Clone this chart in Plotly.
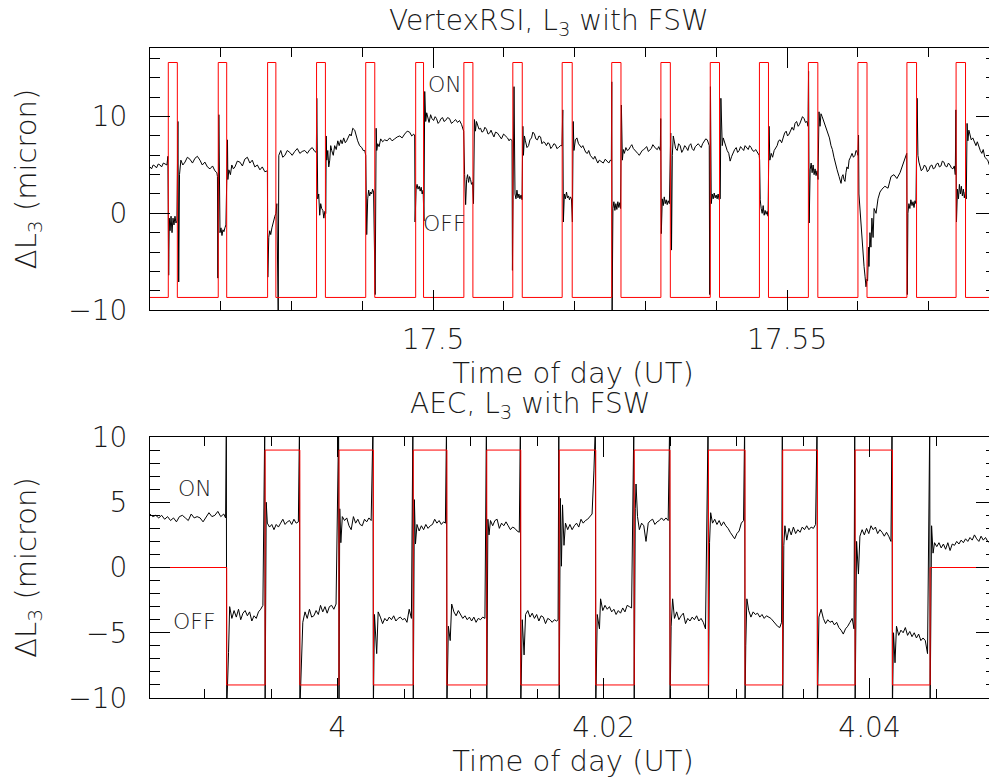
import plotly.graph_objects as go

# ---------------- DATA ----------------
# Top panel: times in seconds after 17.46 h UT
TOP_T0_H = 17.46
top_red_rise_s = [9.3, 34.7, 59.8, 84.7, 109.7, 135.1, 159.6, 184.5, 209.6, 234.8,
                  259.8, 284.9, 309.9, 334.8, 360.0, 384.9, 409.9]
top_red_fall_s = [13.9, 39.0, 64.0, 89.2, 114.3, 139.1, 164.2, 189.3, 214.7, 239.5,
                  264.6, 289.6, 314.5, 339.6, 364.6, 389.8, 414.7]
TOP_RED_LOW = -8.7
TOP_RED_HIGH = 15.6

top_black = [
    (0.0, 4.8), (0.8, 4.6), (1.6, 5.0), (2.5, 4.9), (3.3, 4.7), (4.2, 5.1), (5.1, 5.0), (5.9, 4.8),
    (6.8, 5.2), (7.6, 5.1), (8.6, 5.0),
    (9.1, 5.9), (9.5, -6.4), (9.8, -0.5), (10.2, -1.8), (10.7, -0.3), (11.2, -2.0), (11.7, -0.5),
    (12.2, -1.2), (12.7, -0.3), (13.2, -1.0), (13.7, -0.8),
    (14.2, 9.5), (14.6, -7.1), (15.0, 4.0), (15.7, 5.5), (16.7, 5.0), (17.8, 5.3), (19.0, 5.8),
    (20.3, 5.6), (21.6, 5.2), (22.9, 5.7), (24.1, 5.9), (25.4, 5.5), (26.6, 5.0), (27.9, 5.3),
    (29.2, 4.8), (30.5, 4.6), (31.8, 4.9), (33.0, 4.4), (34.0, 4.2),
    (34.3, 3.8), (34.5, -6.7), (35.0, 10.2), (35.3, -1.0), (35.6, -2.0), (36.1, -1.5), (36.6, -2.3),
    (37.1, -1.7), (37.6, -1.9), (38.1, -1.5), (38.6, -1.2),
    (39.4, 7.6), (39.6, 3.5), (40.1, 4.5), (40.9, 4.0), (41.6, 5.0), (42.4, 4.6), (43.2, 4.8),
    (44.4, 5.4), (45.7, 5.3), (47.0, 4.9), (48.2, 5.6), (49.5, 5.8), (50.8, 5.2), (52.0, 5.5),
    (53.3, 4.8), (54.6, 5.0), (55.9, 4.5), (57.1, 4.8), (58.4, 4.3),
    (59.7, 4.4), (59.9, -6.6), (60.4, -2.5), (60.9, -1.8), (61.4, -2.2), (62.0, -1.5), (62.5, -1.0),
    (63.0, -0.8), (63.5, -0.3), (64.0, 0.0),
    (64.5, 1.0), (65.2, -10.5), (65.5, 6.0), (66.5, 6.5), (67.5, 5.8), (68.6, 6.0), (69.8, 6.5),
    (71.1, 6.3), (72.3, 6.0), (73.6, 6.4), (74.9, 6.7), (76.2, 6.2), (77.4, 6.4), (78.7, 6.5),
    (80.0, 6.2), (81.3, 6.6), (82.5, 6.8), (83.8, 6.4),
    (84.6, 6.3), (84.8, 11.9), (85.3, 1.5), (85.8, 2.0), (86.3, -0.2), (86.8, 1.0), (87.3, 0.5),
    (87.9, 0.3), (88.4, -0.5), (88.9, 0.2),
    (89.4, 0.0), (89.6, 8.0), (89.9, 5.5), (90.4, 6.5), (90.9, 4.8), (91.4, 5.5), (91.9, 7.0),
    (92.4, 6.5), (93.2, 6.0), (93.9, 7.0), (94.7, 6.6), (95.5, 7.5), (96.2, 7.0), (97.0, 7.6),
    (97.7, 7.2), (98.5, 7.8), (99.3, 7.3), (100.0, 7.5), (100.8, 7.9), (101.6, 8.2), (102.3, 8.0),
    (103.1, 8.8), (104.1, 8.6), (104.8, 8.0), (105.6, 7.5), (106.6, 7.0), (107.7, 6.8), (108.4, 6.5),
    (109.2, 6.5),
    (109.7, 6.0), (110.2, -2.2), (110.7, 1.5), (111.2, 2.4), (111.7, 1.8), (112.2, 2.2), (112.7, 2.0),
    (113.2, 2.5), (113.7, 2.2),
    (114.5, -8.4), (115.0, 8.8), (115.3, 6.5), (115.8, 7.2), (116.5, 6.9), (117.3, 7.7), (118.3, 7.4),
    (119.3, 7.6), (120.6, 7.5), (121.9, 7.8), (123.1, 7.5), (124.4, 7.7), (125.7, 7.9), (127.0, 8.0),
    (128.2, 7.8), (129.5, 8.2), (130.8, 8.5), (132.0, 8.4), (133.1, 8.0), (134.1, 8.2),
    (134.6, 8.0), (134.8, -0.9), (135.3, 2.5), (135.8, 3.0), (136.3, 2.5), (136.9, 2.8), (137.4, 2.3),
    (137.9, 2.7), (138.4, 2.0), (138.9, 2.4),
    (139.3, -0.8), (139.7, 12.6), (140.2, 9.5), (140.7, 10.4), (141.2, 9.8), (141.9, 9.4),
    (142.7, 10.2), (143.4, 9.8), (144.2, 9.6), (145.0, 10.0), (145.7, 9.8), (146.5, 9.3), (147.3, 9.5),
    (148.0, 9.8), (148.8, 9.9), (149.5, 9.5), (150.3, 9.6), (151.3, 9.9), (152.3, 9.8), (153.3, 9.3),
    (154.4, 9.5), (155.4, 9.7), (156.4, 9.4), (157.4, 9.6), (158.4, 9.2),
    (159.5, 8.5), (160.0, 4.0), (160.5, 0.9), (161.0, 3.5), (161.5, 4.0), (162.0, 3.2), (162.5, 3.8),
    (163.0, 3.5), (163.5, 3.0), (164.0, 3.2),
    (164.5, 1.0), (165.0, 9.7), (165.5, 8.5), (166.0, 9.5), (166.6, 9.2), (167.3, 8.7), (168.1, 8.8),
    (168.8, 8.4), (169.6, 8.5), (170.3, 8.9), (171.1, 8.7), (171.9, 8.2), (172.7, 8.3), (173.4, 8.6),
    (174.2, 8.2), (174.9, 7.9), (175.7, 8.4), (176.7, 8.3), (177.7, 8.0), (178.7, 7.7), (179.8, 8.2),
    (180.8, 8.0), (181.8, 7.8), (182.6, 7.5), (183.3, 7.7),
    (184.1, 7.5), (184.3, -5.9), (185.1, 13.1), (185.6, 2.0), (186.1, 1.5), (186.6, 2.4), (187.1, 1.6),
    (187.6, 2.0), (188.1, 1.5), (188.7, 1.9), (189.2, 1.4),
    (189.6, 9.0), (189.9, 6.0), (190.4, 8.0), (190.9, 7.5), (191.7, 6.8), (192.5, 7.0), (193.2, 7.6),
    (194.0, 7.8), (194.7, 8.4), (195.5, 8.2), (196.2, 7.7), (197.0, 7.6), (197.8, 8.0), (198.6, 7.9),
    (199.3, 7.2), (200.1, 7.4), (200.8, 7.3), (201.6, 7.0), (202.3, 7.3), (203.1, 7.2), (203.8, 6.7),
    (204.6, 6.9), (205.4, 7.2), (206.2, 7.1), (206.9, 6.7), (207.7, 6.8), (208.7, 7.0),
    (209.5, 7.0), (209.9, 10.7), (210.2, -0.9), (210.7, 2.0), (211.2, 1.5), (211.8, 2.2), (212.3, 1.6),
    (212.8, 1.8), (213.3, 1.4), (213.8, 1.7), (214.3, 1.5),
    (214.8, -0.9), (215.2, 9.5), (215.6, 6.5), (216.3, 7.6), (217.1, 7.8), (217.9, 7.2), (218.6, 7.0),
    (219.4, 6.8), (220.1, 7.0), (220.9, 6.5), (221.6, 6.3), (222.4, 6.2), (223.1, 6.5), (223.9, 6.0),
    (224.7, 5.8), (225.5, 5.6), (226.2, 5.9), (227.0, 5.4), (227.7, 5.2), (228.5, 5.5), (229.5, 5.3),
    (230.5, 5.2), (231.5, 5.6), (232.6, 5.4), (233.3, 5.2), (234.1, 5.5),
    (234.6, 5.4), (234.8, 13.6), (235.0, -10.2), (235.4, 0.5), (235.9, 1.2), (236.4, 0.3), (236.9, 1.0),
    (237.4, 0.4), (237.9, 1.2), (238.4, 0.6), (238.9, 1.1), (239.3, 0.5),
    (239.7, 11.2), (240.2, 5.5), (240.7, 6.6), (241.2, 6.2), (242.0, 6.8), (242.7, 6.5), (243.5, 6.6),
    (244.3, 6.9), (245.0, 7.1), (245.8, 6.7), (246.5, 6.5), (247.3, 6.3), (248.0, 6.2), (248.8, 6.0),
    (249.5, 6.3), (250.3, 6.5), (251.1, 6.6), (251.9, 6.8), (252.6, 6.9), (253.4, 6.4), (254.2, 6.6),
    (254.9, 6.7), (255.7, 7.1), (256.4, 6.9), (257.2, 6.7), (258.0, 6.6), (258.7, 6.9), (259.5, 6.5),
    (259.7, 9.8), (260.0, -2.1), (260.5, 1.5), (261.0, 0.8), (261.5, 1.7), (262.0, 1.0), (262.5, 1.4),
    (263.0, 0.9), (263.5, 1.3), (264.1, 1.0),
    (264.8, 8.3), (265.2, -3.8), (265.6, 6.0), (266.1, 8.0), (266.6, 7.5), (267.3, 6.7), (268.1, 6.5),
    (268.8, 7.2), (269.6, 7.0), (270.4, 6.3), (271.2, 6.6), (271.9, 7.0), (272.7, 6.8), (273.5, 6.5),
    (274.2, 7.0), (275.0, 7.2), (275.7, 6.7), (276.5, 6.5), (277.3, 6.9), (278.0, 7.1), (278.8, 7.2),
    (279.5, 7.0), (280.3, 6.8), (281.0, 7.2), (281.8, 7.4), (282.6, 7.7), (283.4, 7.6), (284.4, 7.0),
    (284.6, -8.4), (285.0, 13.1), (285.4, 1.0), (285.9, 2.0), (286.4, 1.5), (286.9, 2.1), (287.4, 1.6),
    (287.9, 1.9), (288.4, 1.5), (288.9, 2.0), (289.4, 1.4),
    (290.0, 1.5), (290.3, 11.9), (291.0, 7.0), (291.5, 7.8), (292.0, 7.4), (292.8, 6.9), (293.5, 6.5),
    (294.3, 6.2), (295.0, 5.4), (295.8, 5.9), (296.6, 6.3), (297.3, 6.6), (298.1, 6.8), (298.8, 6.3),
    (299.6, 6.5), (300.3, 6.9), (301.1, 6.7), (301.9, 6.5), (302.6, 7.0), (303.4, 6.8), (304.2, 6.6),
    (304.9, 7.0), (305.7, 6.8), (306.4, 6.5), (307.2, 6.4), (308.0, 6.6), (308.7, 6.3), (309.8, 6.0),
    (310.0, 5.5), (310.3, 1.4), (310.8, 0.5), (311.3, 0.0), (311.8, 0.8), (312.3, -0.2), (312.8, 0.3),
    (313.3, -0.1), (313.8, 0.2), (314.3, -0.3),
    (314.8, 9.0), (315.2, 5.5), (315.9, 6.2), (316.6, 5.8), (317.4, 6.5), (318.1, 6.7), (318.9, 7.0),
    (319.6, 7.5), (320.4, 7.6), (321.2, 7.3), (322.0, 8.0), (322.7, 8.3), (323.5, 8.5), (324.2, 8.0),
    (325.0, 8.2), (325.8, 8.7), (326.5, 8.9), (327.3, 8.6), (328.0, 9.3), (328.8, 9.5), (329.6, 9.0),
    (330.3, 9.2), (331.1, 9.6), (331.8, 10.0), (332.6, 9.8), (333.3, 9.4), (334.1, 9.5),
    (334.6, 9.0), (334.9, 14.7), (335.2, -1.0), (335.7, 4.5), (336.2, 5.2), (336.7, 4.2), (337.2, 5.0),
    (337.7, 4.0), (338.2, 4.6), (338.7, 3.9), (339.2, 4.4),
    (339.7, 3.5), (340.2, 10.5), (340.7, 9.0), (341.2, 10.3), (341.8, 10.0), (342.5, 9.6), (343.3, 9.2),
    (344.0, 8.8), (344.8, 8.2), (345.5, 7.8), (346.3, 7.0), (347.0, 6.6), (347.8, 5.8), (348.6, 5.0),
    (349.4, 4.5), (350.4, 3.8), (351.4, 3.1), (351.9, 3.8), (352.4, 4.0), (352.9, 3.5), (353.4, 3.3),
    (353.9, 4.2), (354.4, 4.8), (355.0, 4.6), (355.5, 5.5), (356.2, 5.8), (357.0, 6.2), (357.7, 5.8),
    (358.5, 6.0), (359.0, 6.5), (359.5, 6.4),
    (360.0, 6.0), (360.3, 8.1), (360.5, 2.0), (361.1, 0.0), (361.6, -1.5), (362.1, -3.0), (362.6, -4.0),
    (363.1, -5.5), (363.6, -6.5), (364.1, -7.6), (364.6, -6.8),
    (364.9, -7.0), (365.4, -3.5), (365.6, -5.5), (366.1, -2.0), (366.6, -3.5), (367.1, -0.5),
    (367.7, -2.5), (368.2, 0.5), (369.2, 0.0), (370.2, 1.5), (371.2, 2.2), (372.2, 2.5), (373.7, 2.8),
    (375.3, 2.6), (376.8, 3.8), (378.3, 4.0), (379.8, 3.6), (381.4, 4.2), (382.9, 5.0), (384.4, 6.0),
    (384.8, 6.2), (385.1, -8.4), (385.4, 0.0), (385.9, 1.0), (386.4, 0.5), (386.9, 1.4), (387.5, 0.8),
    (388.0, 1.2), (388.5, 0.6), (389.0, 1.3), (389.5, 1.0),
    (390.1, 11.9), (390.5, 6.0), (391.0, 5.3), (391.5, 5.0), (392.2, 4.4), (393.0, 4.6), (393.8, 5.0),
    (394.6, 4.8), (395.3, 4.3), (396.1, 4.5), (396.8, 4.9), (397.6, 5.0), (398.3, 4.6), (399.1, 4.7),
    (399.9, 5.1), (400.7, 5.2), (401.4, 4.8), (402.2, 4.9), (402.9, 5.4), (403.7, 5.3), (404.4, 4.9),
    (405.2, 4.8), (406.0, 5.2), (406.8, 5.0), (407.5, 4.7), (408.3, 4.6), (409.0, 4.9), (409.5, 4.0),
    (409.8, 10.7), (410.1, -0.9), (410.6, 2.5), (411.1, 1.5), (411.6, 3.0), (412.1, 2.0), (412.6, 2.8),
    (413.1, 1.8), (413.6, 2.5), (414.1, 1.6), (414.6, 2.2),
    (415.1, 1.5), (415.5, 9.3), (415.9, 7.5), (416.4, 8.6), (416.9, 8.2), (417.6, 7.6), (418.4, 7.8),
    (419.2, 7.3), (420.0, 7.0), (420.7, 7.4), (421.5, 6.8), (422.2, 6.5), (423.0, 6.2), (423.7, 6.6),
    (424.5, 5.8), (425.2, 5.6), (426.0, 5.5), (426.8, 5.0), (427.6, 5.2), (428.3, 5.6), (429.1, 5.8),
    (429.6, 6.3), (430.1, 6.5),
]

# Bottom panel: times in seconds relative to 4.0 h UT
BOT_T0_H = 4.0
BOT_RED_START_LEVEL = 0
bot_red_switch_s = [-30.0, -19.6, -10.2, 0.4, 9.7, 20.5, 29.6, 40.4, 49.6, 60.0,
                    69.9, 80.3, 90.0, 100.4, 110.3, 120.5, 129.9, 140.1, 150.2, 160.4]
bot_red_level = [-9, 9, -9, 9, -9, 9, -9, 9, -9, 9,
                 -9, 9, -9, 9, -9, 9, -9, 9, -9, 0]

bot_black = [
    (-50.8, 4.1), (-50.0, 3.9), (-49.2, 4.0), (-48.4, 3.8), (-47.6, 4.0), (-46.8, 3.7), (-46.0, 3.9),
    (-45.2, 3.6), (-44.4, 3.8), (-43.6, 3.5), (-42.8, 3.9), (-42.0, 4.0), (-41.2, 3.8), (-40.4, 3.6),
    (-39.6, 4.1), (-38.8, 3.8), (-38.0, 3.9), (-37.2, 3.8), (-36.4, 3.5), (-35.6, 3.9), (-34.8, 4.2),
    (-34.0, 3.9), (-33.2, 4.0), (-32.4, 4.3), (-31.6, 3.9), (-30.8, 4.1), (-30.3, 3.8),
    (-30.1, 11.0), (-30.0, -11.0),
    (-29.5, -6.5), (-29.2, -3.0), (-28.6, -3.9), (-28.0, -3.3), (-27.4, -3.8), (-26.8, -3.2),
    (-26.2, -4.0), (-25.6, -3.5), (-25.0, -3.3), (-24.4, -3.7), (-23.8, -3.4), (-23.2, -4.1),
    (-22.6, -3.7), (-22.0, -3.9), (-21.4, -3.4), (-20.8, -3.2), (-20.2, -2.9),
    (-19.7, 11.0), (-19.6, -11.0),
    (-19.3, 5.0), (-19.0, 3.4), (-18.4, 3.1), (-17.8, 3.3), (-17.2, 2.9), (-16.6, 3.3), (-16.0, 3.1),
    (-15.4, 3.4), (-14.8, 3.7), (-14.2, 3.3), (-13.6, 3.5), (-13.0, 3.6), (-12.4, 3.3), (-11.8, 3.7),
    (-11.2, 3.4), (-10.6, 3.5),
    (-10.3, 11.0), (-10.2, -11.0),
    (-9.8, -7.5), (-9.4, -4.2), (-8.8, -3.4), (-8.2, -3.9), (-7.6, -3.2), (-7.0, -3.8), (-6.4, -3.7),
    (-5.8, -3.3), (-5.2, -3.6), (-4.6, -2.9), (-4.0, -3.4), (-3.4, -3.0), (-2.8, -3.5), (-2.2, -3.0),
    (-1.6, -2.9), (-1.0, -3.2), (-0.4, -2.8),
    (0.3, 11.0), (0.4, -11.0),
    (0.6, 4.5), (0.9, 1.9), (1.3, 3.9), (1.9, 3.6), (2.5, 3.8), (3.1, 3.2), (3.7, 2.9), (4.3, 3.9),
    (4.9, 3.4), (5.5, 3.7), (6.1, 3.3), (6.7, 3.2), (7.3, 3.7), (7.9, 3.5), (8.5, 3.8), (9.1, 3.6),
    (9.6, 11.0), (9.7, -11.0),
    (10.0, -3.6), (10.6, -6.6), (11.0, -3.4), (11.6, -3.8), (12.2, -4.3), (12.8, -3.9), (13.4, -4.1),
    (14.0, -3.8), (14.6, -4.0), (15.2, -3.7), (15.8, -4.1), (16.4, -3.9), (17.0, -3.8), (17.6, -4.0),
    (18.2, -3.9), (18.8, -4.2), (19.4, -3.2), (20.0, -3.9),
    (20.4, 11.0), (20.5, -11.0),
    (20.8, 5.2), (21.1, 1.8), (21.5, 3.3), (22.1, 2.8), (22.7, 3.2), (23.3, 2.9), (23.9, 3.3),
    (24.5, 3.0), (25.1, 3.2), (25.7, 3.3), (26.3, 3.7), (26.9, 3.4), (27.5, 3.6), (28.1, 3.3),
    (28.7, 3.5), (29.2, 3.4),
    (29.5, 11.0), (29.6, -11.0),
    (30.0, -4.5), (30.5, -5.6), (30.9, -2.8), (31.5, -3.4), (32.1, -3.7), (32.7, -3.3), (33.3, -3.6),
    (33.9, -3.9), (34.5, -3.7), (35.1, -4.0), (35.7, -3.8), (36.3, -4.1), (36.9, -3.8), (37.5, -4.2),
    (38.1, -3.9), (38.7, -4.0), (39.3, -3.8), (39.9, -3.9),
    (40.3, 11.0), (40.4, -11.0),
    (40.7, 3.7), (41.0, 2.5), (41.4, 3.6), (42.0, 3.2), (42.6, 3.6), (43.2, 3.7), (43.8, 3.0),
    (44.4, 3.4), (45.0, 3.2), (45.6, 3.5), (46.2, 3.2), (46.8, 2.9), (47.4, 3.1), (48.0, 3.0),
    (48.6, 2.8), (49.2, 2.7),
    (49.5, 11.0), (49.6, -11.0),
    (50.0, -4.0), (50.5, -6.7), (50.9, -3.6), (51.5, -3.3), (52.1, -3.8), (52.7, -3.5), (53.3, -3.9),
    (53.9, -3.6), (54.5, -4.1), (55.1, -3.7), (55.7, -3.8), (56.3, -4.3), (56.9, -3.9), (57.5, -4.0),
    (58.1, -4.2), (58.7, -4.0), (59.3, -4.1), (59.7, -4.0),
    (59.9, 11.0), (60.0, -11.0),
    (60.3, 5.3), (60.6, 0.1), (60.9, 4.8), (61.3, 1.7), (61.7, 3.4), (62.3, 2.9), (62.9, 3.3),
    (63.5, 2.9), (64.1, 3.2), (64.7, 3.4), (65.3, 3.1), (65.9, 3.7), (66.5, 3.4), (67.1, 3.6),
    (67.7, 3.7), (68.3, 3.9), (68.9, 4.1), (69.4, 7.4),
    (69.8, 11.0), (69.9, -11.0),
    (70.3, -3.6), (70.9, -4.7), (71.2, -2.4), (71.8, -3.3), (72.4, -2.9), (73.0, -3.2), (73.6, -3.0),
    (74.2, -3.4), (74.8, -3.2), (75.4, -3.6), (76.0, -3.3), (76.6, -3.5), (77.2, -3.1), (77.8, -3.4),
    (78.4, -2.9), (79.0, -3.0), (79.6, -3.1),
    (80.2, 11.0), (80.3, -11.0),
    (80.6, 4.5), (80.8, 6.4), (81.2, 3.9), (81.7, 2.9), (82.3, 3.4), (82.9, 3.2), (83.5, 2.0),
    (84.1, 3.4), (84.7, 3.6), (85.3, 3.7), (85.9, 3.3), (86.5, 3.5), (87.1, 3.6), (87.7, 3.8),
    (88.3, 3.6), (88.9, 3.8), (89.5, 3.6),
    (89.9, 11.0), (90.0, -11.0),
    (90.3, -4.5), (90.7, -2.4), (91.2, -3.9), (91.8, -3.4), (92.4, -4.0), (93.0, -3.7), (93.6, -3.5),
    (94.2, -4.3), (94.8, -3.9), (95.4, -4.1), (96.0, -3.8), (96.6, -4.0), (97.2, -3.7), (97.8, -4.1),
    (98.4, -3.9), (99.0, -4.2), (99.6, -4.7),
    (100.3, 11.0), (100.4, -11.0),
    (100.7, 1.9), (101.0, 4.2), (101.5, 3.4), (102.1, 3.7), (102.7, 3.3), (103.3, 3.6), (103.9, 3.2),
    (104.5, 3.5), (105.1, 3.2), (105.7, 3.0), (106.3, 2.7), (106.9, 2.4), (107.5, 2.2), (108.1, 2.6),
    (108.7, 2.8), (109.3, 3.4), (109.9, 3.6),
    (110.2, 11.0), (110.3, -11.0),
    (110.5, -6.0), (110.8, -2.4), (111.3, -3.3), (111.9, -3.8), (112.5, -3.4), (113.1, -3.6),
    (113.7, -3.5), (114.3, -3.8), (114.9, -3.6), (115.5, -3.9), (116.1, -3.7), (116.7, -3.8),
    (117.3, -3.9), (117.9, -4.1), (118.5, -4.3), (119.1, -4.5), (119.7, -4.6), (120.2, -4.2),
    (120.4, 11.0), (120.5, -11.0),
    (120.8, 1.7), (121.1, 3.2), (121.6, 2.1), (122.2, 3.0), (122.8, 2.5), (123.4, 3.1), (124.0, 2.6),
    (124.6, 2.9), (125.2, 2.7), (125.8, 3.1), (126.4, 2.9), (127.0, 3.2), (127.6, 2.9), (128.2, 3.1),
    (128.8, 3.0), (129.4, 3.3),
    (129.8, 11.0), (129.9, -11.0),
    (130.3, -3.8), (130.9, -3.2), (131.5, -3.9), (132.1, -4.3), (132.7, -4.0), (133.3, -4.2),
    (133.9, -4.1), (134.5, -4.4), (135.1, -4.2), (135.7, -4.6), (136.3, -4.8), (136.9, -5.1),
    (137.5, -4.7), (138.1, -4.5), (138.7, -4.2), (139.3, -3.9), (139.8, -4.7),
    (140.0, 11.0), (140.1, -11.0),
    (140.5, 2.0), (141.0, -0.5), (141.4, 2.4), (142.0, 2.9), (142.6, 2.5), (143.2, 3.0), (143.8, 2.6),
    (144.4, 3.2), (145.0, 2.9), (145.6, 3.1), (146.2, 2.6), (146.8, 2.9), (147.4, 2.7), (148.0, 2.4),
    (148.6, 2.7), (149.2, 2.4), (149.8, 2.0),
    (150.1, 11.0), (150.2, -11.0),
    (150.5, -5.0), (150.9, -7.3), (151.3, -4.5), (151.9, -5.2), (152.5, -4.8), (153.1, -5.0),
    (153.7, -4.6), (154.3, -5.2), (154.9, -4.9), (155.5, -5.3), (156.1, -5.0), (156.7, -5.4),
    (157.3, -5.1), (157.9, -5.6), (158.5, -5.4), (159.1, -5.6), (159.7, -6.6),
    (160.3, 11.0), (160.4, -11.0),
    (160.8, 3.2), (161.2, 1.1), (161.6, 1.9), (162.2, 1.6), (162.8, 1.9), (163.4, 1.5), (164.0, 1.8),
    (164.6, 1.4), (165.2, 1.9), (165.8, 1.3), (166.4, 1.8), (167.0, 1.7), (167.6, 2.0), (168.2, 1.8),
    (168.8, 2.1), (169.4, 1.9), (170.0, 2.2), (170.6, 2.0), (171.2, 2.3), (171.8, 2.1), (172.4, 2.5),
    (173.0, 2.2), (173.6, 2.0), (174.2, 2.4), (174.8, 2.1), (175.4, 2.3), (176.0, 2.0), (176.6, 1.9),
    (177.2, 2.3), (177.8, 2.1), (178.4, 2.2),
]

TOP_X_RANGE = [17.46, 17.5795]
TOP_Y_RANGE = [-10, 17.1]
BOT_X_RANGE = [3.98590, 4.04951]
BOT_Y_RANGE = [-10, 10]


def to_hours(t0, secs):
    return [t0 + s / 3600.0 for s in secs]


# top red step series
top_red_s = [-5.0]
top_red_v = [TOP_RED_LOW]
for r, f in zip(top_red_rise_s, top_red_fall_s):
    top_red_s += [r, f]
    top_red_v += [TOP_RED_HIGH, TOP_RED_LOW]
top_red_s.append(440.0)
top_red_v.append(TOP_RED_LOW)

# bottom red step series
bot_red_s = [-60.0] + bot_red_switch_s + [190.0]
bot_red_v = [BOT_RED_START_LEVEL] + bot_red_level + [bot_red_level[-1]]

FONT = "DejaVu Sans"
TXT = "#1a1a1a"
WT = 200

fig = go.Figure()
fig.add_trace(go.Scatter(x=to_hours(TOP_T0_H, [p[0] for p in top_black]), y=[p[1] for p in top_black],
                         mode="lines", line=dict(color="black", width=1), xaxis="x", yaxis="y",
                         showlegend=False, hoverinfo="skip"))
fig.add_trace(go.Scatter(x=to_hours(TOP_T0_H, top_red_s), y=top_red_v, mode="lines",
                         line=dict(color="#ff0000", width=1, shape="hv"), xaxis="x", yaxis="y",
                         showlegend=False, hoverinfo="skip"))
fig.add_trace(go.Scatter(x=to_hours(BOT_T0_H, [p[0] for p in bot_black]), y=[p[1] for p in bot_black],
                         mode="lines", line=dict(color="black", width=1), xaxis="x2", yaxis="y2",
                         showlegend=False, hoverinfo="skip"))
fig.add_trace(go.Scatter(x=to_hours(BOT_T0_H, bot_red_s), y=bot_red_v, mode="lines",
                         line=dict(color="#ff0000", width=1, shape="hv"), xaxis="x2", yaxis="y2",
                         showlegend=False, hoverinfo="skip"))

tickfont = dict(family=FONT, size=28, color=TXT, weight=WT)
titlefont = dict(family=FONT, size=29, color=TXT, weight=WT)
headfont = dict(family=FONT, size=28, color=TXT, weight=WT)


def axis(**kw):
    d = dict(showline=True, linecolor="black", linewidth=1, mirror="ticks",
             ticks="inside", ticklen=20, tickwidth=1, tickcolor="black",
             showgrid=False, zeroline=False, tickfont=tickfont, fixedrange=True,
             automargin=False)
    d.update(kw)
    return d


# The page body carries an 8 px margin, so the figure is sized to fill the rest of the window.
fig.update_layout(
    width=989, height=776,
    margin=dict(l=142, r=1, t=40, b=86, autoexpand=False),
    paper_bgcolor="white", plot_bgcolor="white",
    font=dict(family=FONT, size=28, color=TXT, weight=WT),
    xaxis=axis(domain=[0, 1], anchor="y", range=TOP_X_RANGE, dtick=0.05, tick0=17.5,
               minor=dict(ticks="inside", ticklen=9, dtick=0.01, tick0=17.5, tickcolor="black", tickwidth=1),
               ticklabelstandoff=4,
               title=dict(text="Time of day (UT)", font=titlefont, standoff=7)),
    yaxis=axis(domain=[0.5969, 1], anchor="x", range=TOP_Y_RANGE, dtick=10, tick0=0,
               minor=dict(ticks="inside", ticklen=10, dtick=2, tick0=0, tickcolor="black", tickwidth=1),
               ticklabelstandoff=16,
               title=dict(text="ΔL<sub>3</sub> (micron)", font=titlefont, standoff=23)),
    xaxis2=axis(domain=[0, 1], anchor="y2", range=BOT_X_RANGE, dtick=0.02, tick0=4,
                minor=dict(ticks="inside", ticklen=9, dtick=0.005, tick0=4, tickcolor="black", tickwidth=1),
                ticklabelstandoff=4,
                title=dict(text="Time of day (UT)", font=titlefont, standoff=7)),
    yaxis2=axis(domain=[0, 0.4015], anchor="x2", range=BOT_Y_RANGE, dtick=5, tick0=0,
                minor=dict(ticks="inside", ticklen=10, dtick=1, tick0=0, tickcolor="black", tickwidth=1),
                ticklabelstandoff=16,
                title=dict(text="ΔL<sub>3</sub> (micron)", font=titlefont, standoff=23)),
    annotations=[
        dict(text="VertexRSI, L<sub>3</sub> with FSW", xref="paper", yref="paper", x=0.4716, y=1.0385,
             xanchor="center", yanchor="middle", showarrow=False, font=headfont),
        dict(text="AEC, L<sub>3</sub> with FSW", xref="paper", yref="paper", x=0.4492, y=0.4507,
             xanchor="center", yanchor="middle", showarrow=False, font=headfont),
        dict(text="ON", xref="x", yref="y", x=17.50161, y=13.3, showarrow=False,
             font=dict(family=FONT, size=22, color=TXT, weight=WT)),
        dict(text="OFF", xref="x", yref="y", x=17.50161, y=-1.1, showarrow=False,
             font=dict(family=FONT, size=22, color=TXT, weight=WT)),
        dict(text="ON", xref="x2", yref="y2", x=3.98928, y=6.05, showarrow=False,
             font=dict(family=FONT, size=22, color=TXT, weight=WT)),
        dict(text="OFF", xref="x2", yref="y2", x=3.98928, y=-4.14, showarrow=False,
             font=dict(family=FONT, size=22, color=TXT, weight=WT)),
    ],
)

fig.write_html("out.html")
